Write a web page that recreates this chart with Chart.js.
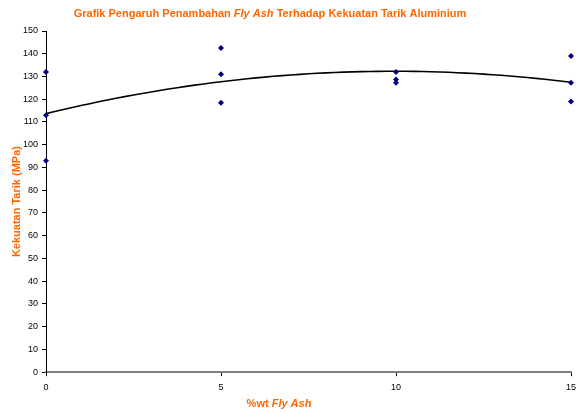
<!DOCTYPE html>
<html>
<head>
<meta charset="utf-8">
<script src="https://cdn.jsdelivr.net/npm/chart.js@4.4.1/dist/chart.umd.min.js"></script>
<style>
  html, body { margin: 0; padding: 0; background: #fff; }
  #wrap { width: 576px; height: 414px; }
</style>
</head>
<body>
<div id="wrap"><canvas id="chart" width="576" height="414"></canvas></div>
<script>
// %wt fly ash for each test specimen
const flyAsh = [0, 0, 0, 5, 5, 5, 10, 10, 10, 15, 15, 15];
// tensile strength (MPa)
const strength = [132, 113, 93, 142.5, 131, 118.5, 132, 128.7, 127.3, 139, 127.3, 119];
const xTicks = [0, 5, 10, 15];

const orange = '#FF6600';
const fontFam = "'Liberation Sans', Arial, sans-serif";

// 2nd order polynomial trend line (least squares), like the Excel trendline
function polyFit(xs, ys) {
    let s = [0, 0, 0, 0, 0], t = [0, 0, 0];
    for (let i = 0; i < xs.length; i++) {
        let p = 1;
        for (let k = 0; k < 5; k++) { s[k] += p; if (k < 3) t[k] += p * ys[i]; p *= xs[i]; }
    }
    const A = [[s[0], s[1], s[2], t[0]], [s[1], s[2], s[3], t[1]], [s[2], s[3], s[4], t[2]]];
    for (let i = 0; i < 3; i++) {
        for (let j = i + 1; j < 3; j++) {
            const f = A[j][i] / A[i][i];
            for (let k = i; k < 4; k++) A[j][k] -= f * A[i][k];
        }
    }
    const c = [0, 0, 0];
    for (let i = 2; i >= 0; i--) {
        let v = A[i][3];
        for (let k = i + 1; k < 3; k++) v -= A[i][k] * c[k];
        c[i] = v / A[i][i];
    }
    return c;
}
const coef = polyFit(flyAsh, strength);
const trend = [];
for (let i = 0; i <= 60; i++) {
    const x = i * 0.25;
    trend.push({ x: x, y: coef[0] + coef[1] * x + coef[2] * x * x });
}

// draws text made of plain / italic pieces centred on (cx, cy)
function richText(ctx, parts, cx, cy, size) {
    ctx.save();
    ctx.fillStyle = orange;
    ctx.textBaseline = 'middle';
    ctx.textAlign = 'left';
    let total = 0;
    parts.forEach(p => {
        ctx.font = (p[1] ? 'italic ' : '') + 'bold ' + size + 'px ' + fontFam;
        total += ctx.measureText(p[0]).width;
    });
    let x = cx - total / 2;
    parts.forEach(p => {
        ctx.font = (p[1] ? 'italic ' : '') + 'bold ' + size + 'px ' + fontFam;
        ctx.fillText(p[0], x, cy);
        x += ctx.measureText(p[0]).width;
    });
    ctx.restore();
}

const titlesPlugin = {
    id: 'titles',
    afterDraw(chart) {
        const ctx = chart.ctx;
        richText(ctx, [['Grafik Pengaruh Penambahan ', false], ['Fly Ash', true], [' Terhadap Kekuatan Tarik Aluminium', false]], 270, 14, 11);
        richText(ctx, [['%wt ', false], ['Fly Ash', true]], 279, 404, 11);
    }
};

const ctx = document.getElementById('chart').getContext('2d');
new Chart(ctx, {
    type: 'scatter',
    data: {
        datasets: [{
            label: 'Kekuatan Tarik',
            data: flyAsh.map((x, i) => ({ x: x, y: strength[i] })),
            pointStyle: 'rectRot',
            pointRadius: 3,
            backgroundColor: '#000080',
            borderColor: '#000080',
            borderWidth: 0,
            clip: false
        }, {
            label: 'Poly.',
            type: 'line',
            data: trend,
            borderColor: '#000000',
            borderWidth: 1.6,
            pointRadius: 0,
            tension: 0,
            fill: false
        }]
    },
    options: {
        responsive: false,
        animation: false,
        layout: { padding: { top: 31, right: 0, bottom: 15, left: 0 } },
        plugins: {
            legend: { display: false },
            title: { display: false },
            tooltip: { enabled: false }
        },
        scales: {
            x: {
                type: 'linear',
                min: 0,
                max: 15,
                afterBuildTicks: axis => { axis.ticks = xTicks.map(v => ({ value: v })); },
                afterFit: axis => { axis.paddingRight = 5; axis.paddingLeft = 3; },
                grid: { display: true, drawOnChartArea: false, drawTicks: true, tickLength: 4, color: '#000' },
                border: { display: true, color: '#808080', width: 2 },
                ticks: { color: '#000', font: { family: fontFam, size: 9 }, padding: 6, maxRotation: 0 }
            },
            y: {
                min: 0,
                max: 150,
                afterFit: axis => { axis.width = 46; },
                grid: { display: true, drawOnChartArea: false, drawTicks: true, tickLength: 4, color: '#000' },
                border: { display: true, color: '#000', width: 1 },
                ticks: { stepSize: 10, color: '#000', font: { family: fontFam, size: 9 }, padding: 4 },
                title: {
                    display: true,
                    text: 'Kekuatan Tarik (MPa)',
                    color: orange,
                    font: { family: fontFam, size: 11, weight: 'bold' },
                    padding: { top: 10, bottom: 0 }
                }
            }
        }
    },
    plugins: [titlesPlugin]
});
</script>
</body>
</html>
